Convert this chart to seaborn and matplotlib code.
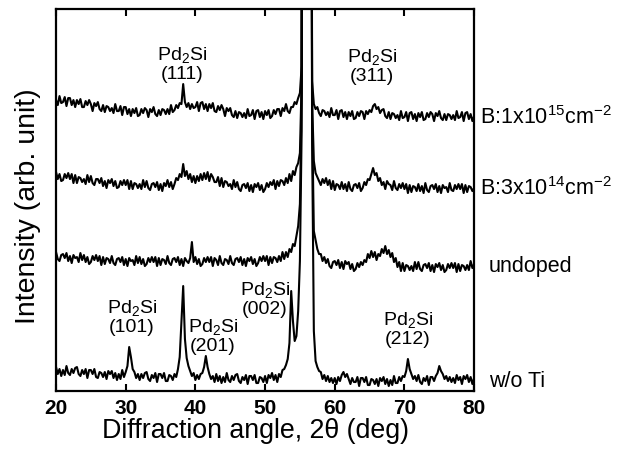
import numpy as np
import pandas as pd
import matplotlib
matplotlib.use("Agg")
import matplotlib.pyplot as plt
import seaborn as sns

# scan grid, 2theta in degrees (0.25 deg step)
TWO_THETA = np.arange(20.0, 80.001, 0.25)

# intensities (arb. unit), one value per grid point
WO_TI = [
    24, 17, 22, 15, 21, 16, 25, 18, 16, 22, 18, 23, 24, 17, 15, 21, 17, 22, 13, 21,
    21, 17, 22, 14, 13, 19, 18, 14, 19, 12, 20, 17, 20, 13, 18, 11, 17, 12, 21, 14,
    19, 25, 44, 34, 22, 19, 13, 17, 11, 17, 13, 18, 19, 12, 10, 16, 13, 18, 9, 17,
    17, 13, 18, 10, 10, 16, 15, 11, 17, 14, 22, 34, 70, 105, 52, 33, 25, 20, 15, 18,
    11, 16, 12, 17, 18, 24, 35, 24, 17, 12, 15, 9, 17, 10, 15, 8, 14, 9, 18, 11,
    9, 15, 11, 16, 17, 10, 8, 14, 11, 16, 7, 15, 15, 11, 16, 8, 8, 14, 13, 9,
    15, 8, 16, 13, 18, 11, 16, 9, 17, 14, 21, 22, 26, 32, 48, 100, 70, 50, 55, 80,
    130, 260, 1500, 3000, 3200, 2500, 1200, 250, 60, 30, 24, 20, 19, 12, 16, 10, 15, 9, 13, 8,
    13, 7, 14, 10, 16, 19, 14, 17, 12, 7, 13, 9, 9, 14, 5, 13, 13, 9, 14, 6,
    6, 12, 11, 7, 12, 5, 13, 10, 14, 7, 12, 5, 11, 6, 15, 8, 8, 14, 10, 15,
    14, 20, 32, 22, 17, 12, 15, 10, 16, 9, 7, 13, 10, 15, 6, 14, 14, 10, 15, 18,
    25, 20, 17, 12, 15, 10, 14, 9, 13, 8, 16, 11, 14, 7, 15, 12, 16, 9, 14, 7,
    13,
]
UNDOPED = [
    24, 17, 15, 21, 22, 18, 23, 15, 20, 13, 21, 18, 19, 14, 23, 16, 21, 14, 19, 12,
    14, 20, 16, 21, 15, 20, 11, 19, 12, 18, 17, 13, 20, 13, 11, 17, 18, 14, 19, 11,
    17, 10, 18, 15, 16, 11, 20, 13, 19, 12, 17, 10, 12, 18, 14, 19, 14, 19, 10, 18,
    11, 17, 16, 12, 20, 13, 11, 17, 18, 14, 19, 11, 17, 10, 18, 15, 13, 18, 34, 14,
    19, 12, 17, 10, 12, 18, 14, 19, 14, 19, 10, 18, 16, 11, 20, 13, 11, 17, 16, 12,
    20, 13, 11, 17, 18, 14, 19, 11, 17, 10, 18, 15, 19, 12, 17, 10, 13, 19, 15, 20,
    15, 20, 11, 19, 13, 19, 18, 14, 20, 15, 24, 17, 24, 19, 27, 24, 32, 30, 40, 50,
    72, 180, 1400, 2800, 3100, 2400, 1100, 160, 45, 36, 27, 22, 22, 15, 19, 13, 17, 10, 8, 14,
    15, 11, 16, 8, 14, 7, 15, 12, 14, 7, 12, 5, 7, 13, 9, 14, 11, 16, 14, 22,
    18, 25, 19, 24, 16, 22, 20, 27, 23, 30, 22, 26, 19, 23, 14, 18, 9, 14, 5, 13,
    5, 11, 10, 6, 10, 5, 14, 7, 14, 7, 5, 11, 12, 8, 13, 5, 11, 4, 12, 9,
    13, 6, 11, 4, 6, 12, 8, 13, 8, 13, 4, 12, 5, 11, 10, 6, 11, 6, 15, 8,
    12,
]
B_3E14 = [
    29, 22, 27, 20, 21, 27, 23, 28, 22, 27, 18, 26, 18, 24, 23, 19, 22, 17, 26, 19,
    25, 18, 16, 22, 22, 18, 23, 15, 20, 13, 21, 18, 22, 15, 20, 13, 14, 20, 16, 21,
    16, 21, 12, 20, 12, 18, 17, 13, 17, 12, 21, 14, 20, 13, 11, 17, 18, 14, 19, 11,
    17, 10, 18, 15, 21, 14, 19, 12, 17, 23, 21, 27, 24, 37, 25, 30, 22, 27, 19, 25,
    18, 25, 20, 27, 21, 28, 22, 29, 20, 27, 24, 19, 19, 24, 15, 23, 14, 20, 19, 15,
    17, 12, 21, 14, 19, 12, 10, 16, 17, 13, 18, 10, 16, 9, 17, 14, 18, 11, 16, 9,
    12, 18, 14, 19, 16, 21, 12, 20, 15, 21, 20, 16, 23, 18, 27, 20, 30, 26, 34, 38,
    48, 120, 1300, 2700, 3000, 2300, 1000, 100, 40, 28, 24, 20, 16, 22, 18, 23, 16, 21, 12, 20,
    11, 17, 16, 12, 19, 12, 17, 10, 19, 12, 10, 16, 17, 13, 18, 10, 13, 19, 16, 22,
    21, 27, 33, 26, 28, 20, 23, 16, 19, 12, 20, 17, 16, 11, 20, 13, 11, 17, 13, 18,
    12, 17, 8, 16, 9, 15, 14, 10, 17, 10, 15, 8, 18, 11, 9, 15, 16, 12, 17, 9,
    15, 8, 16, 13, 14, 9, 18, 11, 10, 16, 12, 17, 12, 17, 8, 16, 9, 15, 14, 10,
    13,
]
B_1E15 = [
    26, 21, 30, 23, 24, 29, 20, 28, 28, 21, 26, 19, 26, 22, 27, 19, 19, 25, 21, 26,
    22, 15, 23, 20, 24, 17, 15, 21, 14, 20, 19, 15, 18, 13, 22, 15, 15, 20, 11, 19,
    19, 12, 17, 10, 17, 13, 18, 10, 11, 17, 13, 18, 16, 9, 17, 14, 19, 12, 10, 16,
    11, 17, 16, 12, 17, 12, 21, 14, 16, 21, 18, 23, 22, 42, 24, 19, 23, 17, 22, 18,
    19, 24, 15, 23, 24, 17, 22, 15, 22, 18, 23, 15, 14, 20, 16, 21, 17, 10, 18, 15,
    18, 11, 9, 15, 8, 14, 13, 9, 13, 8, 17, 10, 11, 16, 7, 15, 16, 9, 14, 7,
    15, 11, 16, 8, 10, 16, 12, 17, 17, 10, 18, 15, 22, 15, 13, 19, 19, 24, 22, 28,
    33, 60, 1200, 2600, 2900, 2200, 900, 45, 22, 17, 19, 13, 10, 16, 15, 11, 14, 9, 18, 11,
    11, 16, 7, 15, 16, 9, 14, 7, 14, 10, 15, 7, 8, 14, 10, 15, 14, 7, 15, 12,
    16, 14, 20, 22, 17, 19, 13, 16, 17, 10, 8, 14, 7, 13, 12, 8, 11, 6, 15, 8,
    9, 14, 5, 13, 14, 7, 12, 5, 13, 9, 14, 6, 7, 13, 9, 14, 12, 5, 13, 10,
    15, 8, 6, 12, 6, 12, 11, 7, 11, 6, 15, 8, 9, 14, 5, 13, 14, 7, 12, 5,
    10,
]

SAMPLES = ["w/o Ti", "undoped", "B:3x10$^{14}$cm$^{-2}$", "B:1x10$^{15}$cm$^{-2}$"]
SERIES = [WO_TI, UNDOPED, B_3E14, B_1E15]
OFFSETS = [0, 115, 190, 265]

PEAK_LABELS = ["(111)", "(311)", "(101)", "(201)", "(002)", "(212)"]
PEAK_POS = [38.1, 65.3, 30.9, 42.5, 50.0, 70.5]
PEAK_Y = [328, 326, 75, 56, 93, 63]

sns.set_theme(style="ticks")
plt.rcParams.update({
    "font.family": ["Liberation Sans", "DejaVu Sans"],
    "mathtext.fontset": "custom",
    "mathtext.rm": "Liberation Sans",
    "mathtext.default": "regular",
    "text.color": "black",
    "axes.labelcolor": "black",
    "xtick.color": "black",
    "ytick.color": "black",
})

fig = plt.figure(figsize=(6.33, 4.52), dpi=100)
ax = fig.add_axes([0.0885, 0.1327, 0.6605, 0.845])

for name, vals, off in zip(SAMPLES, SERIES, OFFSETS):
    y = np.asarray(vals, dtype=float) + off
    sns.lineplot(x=TWO_THETA, y=y, color="black", linewidth=1.5, ax=ax)

ax.set_xlim(20, 80)
ax.set_ylim(0, 382)
ax.set_xticks([20, 30, 40, 50, 60, 70, 80])
ax.set_yticks([])
ax.tick_params(axis="x", direction="in", top=True, length=5, width=1.5,
               labelsize=15, pad=5)
for lab in ax.get_xticklabels():
    lab.set_fontweight("bold")
for sp in ax.spines.values():
    sp.set_linewidth(1.6)
    sp.set_color("black")

ax.set_xlabel("Diffraction angle, 2\u03b8 (deg)", fontsize=19.3)
ax.xaxis.set_label_coords(0.476, -0.068)
ax.set_ylabel("Intensity (arb. unit)", fontsize=20.5)
ax.yaxis.set_label_coords(-0.035, 0.487)

for lab, xp, yp in zip(PEAK_LABELS, PEAK_POS, PEAK_Y):
    ax.text(xp, yp, "Pd$_2$Si\n" + lab, ha="center", va="center",
            fontsize=14, linespacing=1.05)

# sample names on the right, next to the trace ends
label_x = [82.1, 82.1, 80.85, 80.85]
label_y = [11, 126, 204, 275]
for name, xp, yp in zip(SAMPLES, label_x, label_y):
    ax.text(xp, yp, name, ha="left", va="center", fontsize=15.5, clip_on=False)

fig.savefig("out.png", dpi=100, facecolor="white")
